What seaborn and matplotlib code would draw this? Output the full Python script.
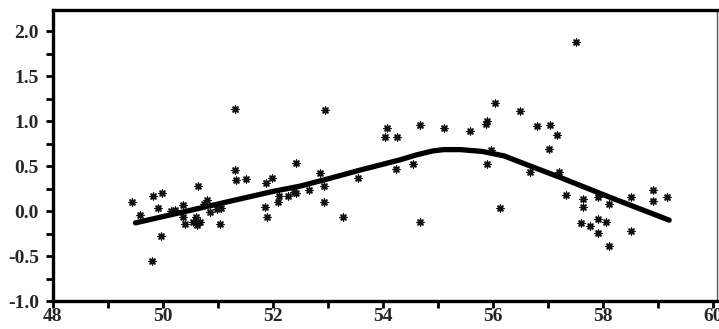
import matplotlib
matplotlib.use("Agg")
import matplotlib.pyplot as plt
from matplotlib.ticker import MultipleLocator
import seaborn as sns
import pandas as pd

# scatter observations
pts_x = [49.44, 49.58, 49.82, 49.98, 49.91, 49.96, 49.80, 50.15, 50.22, 50.36, 50.36, 50.40,
         50.55, 50.62, 50.67, 50.64, 50.75, 50.80, 50.85, 50.98, 51.05, 51.04, 50.60,
         51.30, 51.33, 51.50, 51.30, 51.85, 51.89, 51.87, 51.98, 52.10, 52.09, 52.27,
         52.38, 52.42, 52.42, 52.65, 52.85, 52.93, 52.93, 52.95, 53.27, 53.55,
         54.07, 54.04, 54.25, 54.67, 55.11, 55.58, 55.87, 54.24, 54.55, 54.67,
         56.04, 56.49, 55.89, 56.80, 57.04, 57.16, 57.02, 55.96, 55.89, 56.67, 57.20,
         56.13, 57.50, 57.33, 57.64, 57.64, 57.90, 58.10, 58.50, 58.90, 58.90, 59.16,
         57.60, 57.76, 57.90, 58.05, 57.90, 58.10, 58.50]
pts_y = [0.10, -0.04, 0.17, 0.20, 0.04, -0.28, -0.55, 0.00, 0.01, 0.07, -0.07, -0.14,
         -0.12, -0.15, -0.12, 0.28, 0.08, 0.12, -0.01, 0.02, 0.03, -0.14, -0.06,
         0.46, 0.35, 0.36, 1.14, 0.05, -0.06, 0.31, 0.37, 0.17, 0.10, 0.17,
         0.21, 0.20, 0.54, 0.24, 0.43, 0.28, 0.10, 1.13, -0.06, 0.37,
         0.93, 0.82, 0.82, 0.96, 0.93, 0.89, 0.97, 0.47, 0.52, -0.12,
         1.20, 1.11, 1.00, 0.95, 0.96, 0.85, 0.69, 0.68, 0.53, 0.44, 0.44,
         0.03, 1.88, 0.18, 0.13, 0.05, 0.16, 0.08, 0.16, 0.24, 0.11, 0.16,
         -0.13, -0.16, -0.09, -0.12, -0.24, -0.39, -0.22]

# fitted smooth curve
fit_x = [49.5, 50.0, 51.0, 52.0, 52.5, 53.0, 53.6, 54.3, 54.6, 54.9, 55.1, 55.4, 55.8, 56.2,
         56.6, 57.2, 58.1, 59.2]
fit_y = [-0.13, -0.06, 0.08, 0.22, 0.28, 0.36, 0.46, 0.57, 0.625, 0.67, 0.685, 0.685, 0.665, 0.615,
         0.52, 0.38, 0.16, -0.10]

x_ticks = [48, 50, 52, 54, 56, 58, 60]
y_ticks = [-1.0, -0.5, 0.0, 0.5, 1.0, 1.5, 2.0]

sns.set_theme(style="white")
plt.rcParams['font.family'] = ['Liberation Serif', 'DejaVu Serif']

fig = plt.figure(figsize=(7.19, 3.29), dpi=100)
ax = fig.add_axes([0.0737, 0.085, 0.9236, 0.885])

pts = pd.DataFrame({"x": pts_x, "y": pts_y})
fit = pd.DataFrame({"x": fit_x, "y": fit_y})

sns.scatterplot(data=pts, x="x", y="y", ax=ax, marker=(8, 2, 0), s=24,
                color="#111111", linewidth=1.0, edgecolor="#111111")
sns.lineplot(data=fit, x="x", y="y", ax=ax, color="black", linewidth=3.8,
             sort=False, estimator=None)

ax.set_xlim(48, 60.07)
ax.set_ylim(-1.0, 2.24)
ax.set_xticks(x_ticks)
ax.set_yticks(y_ticks)
ax.set_xticklabels([str(t) for t in x_ticks])
ax.set_yticklabels([f"{t:.1f}" for t in y_ticks])
ax.xaxis.set_minor_locator(MultipleLocator(1))
ax.yaxis.set_minor_locator(MultipleLocator(0.25))
ax.set_xlabel("")
ax.set_ylabel("")

for side in ["left", "bottom", "top"]:
    ax.spines[side].set_visible(True)
    ax.spines[side].set_color("black")
    ax.spines[side].set_linewidth(2.4)
ax.spines["right"].set_color("#555555")
ax.spines["right"].set_linewidth(1.0)

ax.tick_params(axis="both", which="both", direction="out", color="black",
               width=2, labelsize=14, left=True, bottom=True)
ax.tick_params(which="major", length=5)
ax.tick_params(which="minor", length=5)
ax.tick_params(axis="y", pad=5)
ax.tick_params(axis="x", pad=0)
for lab in ax.get_xticklabels() + ax.get_yticklabels():
    lab.set_fontweight("bold")

fig.savefig("out.png", dpi=100)
